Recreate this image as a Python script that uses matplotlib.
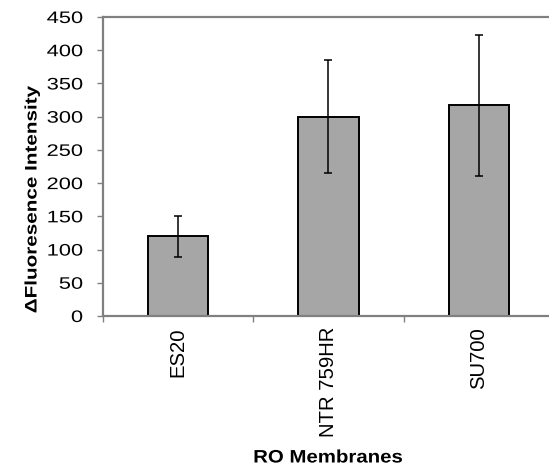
import numpy as np
import matplotlib
matplotlib.use('Agg')
import matplotlib.pyplot as plt
from matplotlib import patheffects
from matplotlib.transforms import Affine2D

plt.rcParams['font.family'] = ['Liberation Sans', 'DejaVu Sans']

membranes = ['ES20', 'NTR 759HR', 'SU700']
intensity = [120, 300, 317]
errors = [31, 85, 106]


class Stretch(patheffects.AbstractPathEffect):
    """Widen text along its own direction (the source chart uses wide text)."""
    def __init__(self, sx, anchor=0.5):
        super().__init__()
        self.sx = sx
        self.anchor = anchor

    def draw_path(self, renderer, gc, tpath, affine, rgbFace=None):
        ext = tpath.get_extents()
        x0 = ext.x0 + self.anchor * (ext.x1 - ext.x0)
        t = Affine2D().translate(-x0, 0).scale(self.sx, 1).translate(x0, 0)
        renderer.draw_path(gc, tpath, t + affine, rgbFace)


fig = plt.figure(figsize=(5.49, 4.70), dpi=100)
# axes run slightly past the right edge, like the original cropped figure
ax = fig.add_axes([103 / 549, (470 - 316) / 470, 451 / 549, 299 / 470])

x = np.arange(len(membranes))
ax.bar(x, intensity, width=0.4, color='#a6a6a6', edgecolor='black', linewidth=1.4, zorder=2)
ax.errorbar(x, intensity, yerr=errors, fmt='none', ecolor='black',
            elinewidth=1.1, capsize=3.2, capthick=1.1, zorder=3)

ax.set_xlim(-0.5, 2.5)
ax.set_ylim(0, 450)
ax.set_yticks(np.arange(0, 451, 50))
ax.tick_params(axis='y', labelsize=12, length=4.5, width=1, color='#808080', pad=10)

# category labels sit between boundary tick marks
ax.set_xticks(x)
ax.set_xticklabels(membranes, rotation=90, fontsize=14.6, va='top')
ax.tick_params(axis='x', length=0, pad=8)
ax.set_xticks([-0.5, 0.5, 1.5, 2.5], minor=True)
ax.tick_params(axis='x', which='minor', length=4.5, width=1, color='#808080')

for side in ['left', 'bottom', 'top']:
    ax.spines[side].set_color('#808080')
    ax.spines[side].set_linewidth(1.6)
ax.spines['right'].set_visible(False)

fig.text(32 / 549, 1 - 200 / 470, 'ΔFluoresence Intensity', rotation=90,
         ha='center', va='center', fontsize=12, fontweight='bold',
         path_effects=[Stretch(1.24)])
fig.text(328 / 549, 1 - 458 / 470, 'RO Membranes',
         ha='center', va='center', fontsize=13, fontweight='bold',
         path_effects=[Stretch(1.13)])

fig.canvas.draw()
for lab in ax.get_yticklabels():
    lab.set_path_effects([Stretch(1.31, anchor=1.0)])

fig.savefig('out.png', dpi=100)
